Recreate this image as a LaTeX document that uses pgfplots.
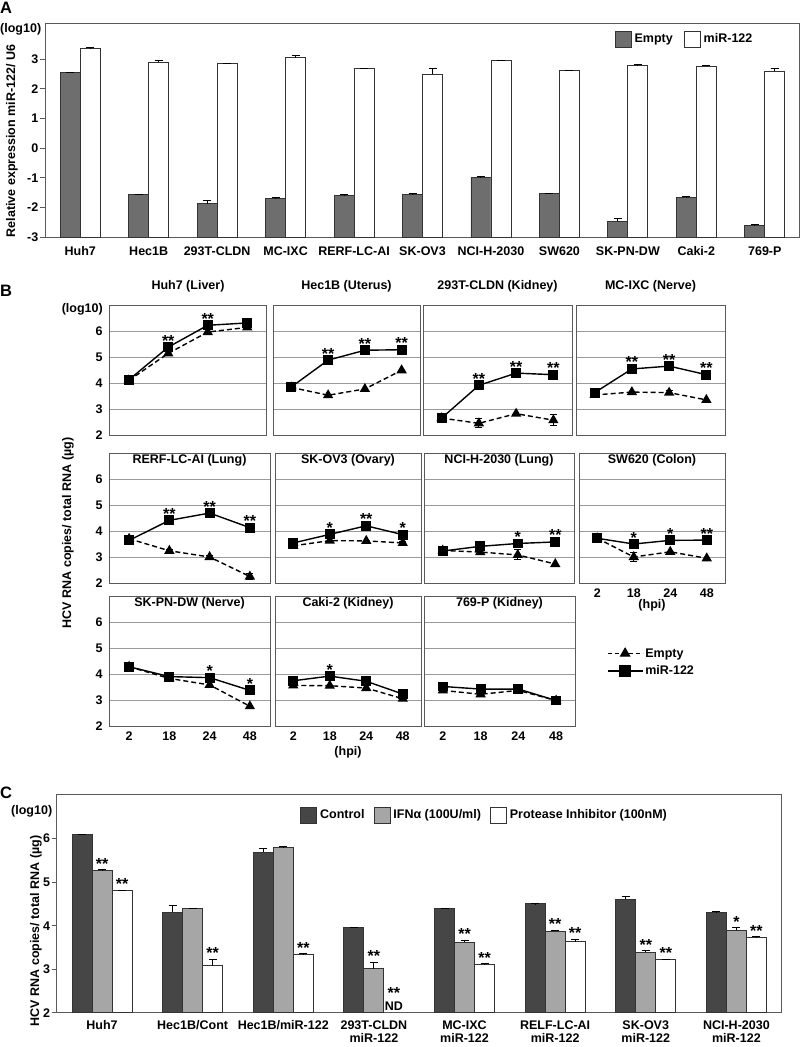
\documentclass[border=0pt]{standalone}
\usepackage{fontspec}
\setmainfont{Liberation Sans}
\usepackage{pgfplots}
\usepackage{pgfplotstable}
\pgfplotsset{compat=1.18}
\newcommand{\myf}{\fontsize{12.5}{13.5}\selectfont\bfseries}
\newcommand{\myfc}{\fontsize{12.5}{12.8}\selectfont\bfseries}
\newcommand{\mystar}{\fontsize{16}{16}\selectfont\bfseries}
\newcommand{\mybig}{\fontsize{16.5}{17}\selectfont\bfseries}
\definecolor{cempty}{HTML}{6E6E6E}
\definecolor{cctrl}{HTML}{464646}
\definecolor{cifn}{HTML}{A6A6A6}
\definecolor{cedge}{HTML}{333333}
\definecolor{cgrid}{HTML}{9A9A9A}
\definecolor{cframe}{HTML}{5A5A5A}

\pgfplotstableread{
i e ee m me
0 2.54 0.02 3.37 0.01
1 -1.57 0.02 2.90 0.06
2 -1.88 0.11 2.85 0.02
3 -1.69 0.01 3.05 0.06
4 -1.59 0.01 2.67 0.02
5 -1.55 0.01 2.49 0.18
6 -0.98 0.01 2.95 0.01
7 -1.54 0.01 2.61 0.02
8 -2.47 0.08 2.80 0.02
9 -1.66 0.02 2.76 0.03
10 -2.60 0.02 2.60 0.07
}\dataA

\pgfplotstableread{
x y err
0 6.09 0.01
1 4.31 0.15
2 5.69 0.08
3 3.95 0.02
4 4.39 0.01
5 4.50 0.01
6 4.61 0.06
7 4.31 0.01
}\Cctrl
\pgfplotstableread{
x y err sig
0 5.27 0.02 **
1 4.39 0.01 {}
2 5.80 0.01 {}
3 3.01 0.15 **
4 3.62 0.05 **
5 3.87 0.03 **
6 3.39 0.03 **
7 3.89 0.06 *
}\Cifn
\pgfplotstableread{
x y err sig
0 4.80 0.02 **
1 3.08 0.15 **
2 3.35 0.01 **
4 3.10 0.02 **
5 3.63 0.06 **
6 3.22 0.01 **
7 3.73 0.02 **
}\Cpi

\pgfplotsset{
  /pgf/number format/assume math mode=true,
  barleg/.style={legend image code/.code={\draw[##1] (0pt,-8pt) rectangle (16pt,8pt);}},
  Bleg/.style={legend image code/.code={\draw[mark repeat=2,mark phase=2,##1] plot coordinates {(0pt,0pt) (17.5pt,0pt) (35pt,0pt)};}},
  abar/.style={ybar, bar width=20pt, bar shift=0pt, draw=cedge, line width=0.9pt,
    error bars/y dir=plus, error bars/y explicit,
    error bars/error bar style={black, line width=1pt},
    error bars/error mark options={rotate=90, black, line width=1pt, mark size=4pt}},
  Bax/.style={scale only axis, anchor=north west, height=130pt,
    xmin=-0.5, xmax=3.5, ymin=2, ymax=7,
    xtick={0,1,2,3}, xticklabels={}, ytick={2,3,4,5,6}, yticklabels={},
    ymajorgrids, grid style={cgrid, line width=0.9pt},
    axis line style={cframe, line width=1pt},
    major tick length=0pt, tick style={draw=none}, clip=false,
    tick label style={font=\myf}, title style={font=\myf},
    xticklabel style={yshift=-2pt}},
  Btop/.style={title style={at={(0.5,1)}, anchor=center, yshift=13pt}},
  Bin/.style={title style={at={(0.5,1)}, anchor=center, yshift=-13pt}},
  Bleft/.style={yticklabels={2,3,4,5,6}, yticklabel style={xshift=-3pt}},
  Bbottom/.style={xticklabels={2,18,24,48}},
  empt/.style={black, line width=1.4pt, dash pattern=on 5pt off 3pt, mark=triangle*, mark size=4.6pt, mark options={solid},
    error bars/y dir=both, error bars/y explicit,
    error bars/error bar style={solid, line width=1pt},
    error bars/error mark options={rotate=90, solid, black, line width=1pt, mark size=3.5pt}},
  mir/.style={black, line width=1.4pt, mark=square*, mark size=4.2pt, mark options={solid},
    nodes near coords, point meta=explicit symbolic,
    every node near coord/.append style={font=\mystar, anchor=base, yshift=1pt, inner sep=0pt}},
  cstars/.style={nodes near coords, point meta=explicit symbolic,
    visualization depends on={\thisrow{err} \as \eb},
    every node near coord/.append style={font=\mystar, anchor=base, inner sep=0pt, yshift={\eb*43.5+0.5}}},
}

\newcommand{\Bpanel}[6]{%
\begin{axis}[Bax, at={(#1pt,-#2pt)}, width=#3pt, #4]
\addplot[empt] coordinates {#5};
\addplot[mir] coordinates {#6};
\end{axis}}

\begin{document}
\begin{tikzpicture}
\useasboundingbox (0pt,0pt) rectangle (800pt,-1047pt);

% ---------------- Panel A ----------------
\node[font=\mybig, anchor=north west, inner sep=0pt] at (0pt,-2pt) {A};
\node[font=\myf, anchor=west, inner sep=0pt] at (0pt,-29pt) {(log10)};
\node[font=\myf, rotate=90] at (12pt,-141pt) {Relative expression miR-122/ U6};
\begin{axis}[
  at={(46pt,-23pt)}, anchor=north west, scale only axis, width=753pt, height=214pt,
  xmin=-0.5, xmax=10.5, ymin=0, ymax=7.22,
  xtick={0,...,10},
  xticklabels={Huh7,Hec1B,293T-CLDN,MC-IXC,RERF-LC-AI,SK-OV3,NCI-H-2030,SW620,SK-PN-DW,Caki-2,769-P},
  ytick={0,...,6}, yticklabels={-3,-2,-1,0,1,2,3},
  tick align=outside, major tick length=6pt, xtick style={draw=none},
  ytick style={cframe, line width=1pt}, ytick pos=left,
  axis line style={cframe, line width=1pt},
  tick label style={font=\myf}, yticklabel style={inner sep=1.5pt},
  legend columns=2,
  legend style={at={(0.755,0.925)}, anchor=west, draw=none, fill=none, font=\myf,
    inner sep=0pt, nodes={inner sep=3pt},
    /tikz/every even column/.append style={column sep=8pt}},
]
\addlegendimage{barleg, fill=cempty, draw=cedge, line width=0.9pt}
\addlegendentry{Empty}
\addlegendimage{barleg, fill=white, draw=cedge, line width=0.9pt}
\addlegendentry{miR-122}
\addplot[abar, fill=cempty, forget plot] table[x expr=\thisrow{i}-0.1461, y expr=\thisrow{e}+3, y error=ee]{\dataA};
\addplot[abar, fill=white, forget plot] table[x expr=\thisrow{i}+0.1461, y expr=\thisrow{m}+3, y error=me]{\dataA};
\end{axis}

% ---------------- Panel B ----------------
\node[font=\mybig, anchor=north west, inner sep=0pt] at (0pt,-285pt) {B};
\node[font=\myf, anchor=east, inner sep=0pt] at (103pt,-309pt) {(log10)};
\node[font=\myf, rotate=90] at (68pt,-533pt) {HCV RNA copies/ total RNA (µg)};

\Bpanel{109}{305}{158}{title={Huh7 (Liver)}, Btop, Bleft}
 {(0,4.10) (1,5.14) (2,5.96) (3,6.14)}
 {(0,4.12) [{}] (1,5.38) [**] (2,6.22) [**] (3,6.31) [{}]}
\Bpanel{273}{305}{147}{title={Hec1B (Uterus)}, Btop}
 {(0,3.83) (1,3.53) (2,3.77) (3,4.49)}
 {(0,3.85) [{}] (1,4.88) [**] (2,5.26) [**] (3,5.28) [**]}
\Bpanel{423}{305}{149}{title={293T-CLDN (Kidney)}, Btop}
 {(0,2.65) (1,2.45) +- (0,0.18) (2,2.82) (3,2.57) +- (0,0.2)}
 {(0,2.65) [{}] (1,3.91) [**] (2,4.38) [**] (3,4.32) [**]}
\Bpanel{576}{305}{149}{title={MC-IXC (Nerve)}, Btop}
 {(0,3.54) +- (0,0.08) (1,3.65) (2,3.63) +- (0,0.08) (3,3.35)}
 {(0,3.63) [{}] (1,4.54) [**] (2,4.65) [**] (3,4.32) [**]}

\Bpanel{109}{453}{161}{title={RERF-LC-AI (Lung)}, Bin, Bleft}
 {(0,3.70) (1,3.24) +- (0,0.05) (2,3.00) +- (0,0.07) (3,2.25) +- (0,0.1)}
 {(0,3.64) [{}] (1,4.41) [**] (2,4.69) [**] (3,4.13) [**]}
\Bpanel{275}{453}{146}{title={SK-OV3 (Ovary)}, Bin}
 {(0,3.43) (1,3.63) (2,3.62) (3,3.54) +- (0,0.05)}
 {(0,3.54) [{}] (1,3.87) [*] (2,4.20) [**] (3,3.86) [*]}
\Bpanel{424}{453}{150}{title={NCI-H-2030 (Lung)}, Bin}
 {(0,3.25) +- (0,0.17) (1,3.19) (2,3.08) +- (0,0.19) (3,2.73)}
 {(0,3.23) [{}] (1,3.41) [{}] (2,3.52) [*] (3,3.58) [**]}
\Bpanel{579}{453}{146}{title={SW620 (Colon)}, Bin, Bbottom, xlabel={(hpi)}, xlabel style={font=\myf, at={(0.5,0)}, anchor=center, yshift=-22pt}}
 {(0,3.72) (1,3.00) +- (0,0.17) (2,3.20) (3,2.95)}
 {(0,3.72) [{}] (1,3.50) [*] (2,3.64) [*] (3,3.65) [**]}

\Bpanel{109}{596}{161}{title={SK-PN-DW (Nerve)}, Bin, Bleft, Bbottom}
 {(0,4.28) (1,3.83) (2,3.58) (3,2.76)}
 {(0,4.28) [{}] (1,3.90) [{}] (2,3.86) [*] (3,3.37) [*]}
\Bpanel{275}{596}{146}{title={Caki-2 (Kidney)}, Bin, Bbottom, xlabel={(hpi)}, xlabel style={font=\myf, at={(0.5,0)}, anchor=center, yshift=-26pt}}
 {(0,3.56) (1,3.55) (2,3.46) (3,3.05)}
 {(0,3.74) [{}] (1,3.92) [*] (2,3.72) [{}] (3,3.23) [{}]}
\begin{axis}[Bax, at={(424pt,-596pt)}, width=151pt, title={769-P (Kidney)}, Bin, Bbottom,
  legend style={at={(1.21,0.49)}, anchor=west, draw=none, fill=none, font=\myf,
    inner sep=0pt, row sep=3pt, nodes={inner sep=2pt}},
  legend cell align=left]
\addlegendimage{black, line width=1.4pt, dash pattern=on 4pt off 3pt, mark=triangle*, mark size=5pt, mark options={solid}, Bleg}
\addlegendentry{Empty}
\addlegendimage{black, line width=1.4pt, mark=square*, mark size=5pt, Bleg}
\addlegendentry{miR-122}
\addplot[empt, forget plot] coordinates {(0,3.37) (1,3.22) (2,3.37) (3,2.98)};
\addplot[mir, forget plot] coordinates {(0,3.52) [{}] (1,3.42) [{}] (2,3.42) [{}] (3,2.98) [{}]};
\end{axis}

% ---------------- Panel C ----------------
\node[font=\mybig, anchor=north west, inner sep=0pt] at (0pt,-787pt) {C};
\node[font=\myf, anchor=west, inner sep=0pt] at (11pt,-811pt) {(log10)};
\node[font=\myf, rotate=90] at (36pt,-931pt) {HCV RNA copies/ total RNA (µg)};
\begin{axis}[
  at={(56.7pt,-794.3pt)}, anchor=north west, scale only axis, width=725pt, height=218.4pt,
  xmin=-0.5, xmax=7.5, ymin=2, ymax=7.02,
  xtick={0,...,7},
  xticklabels={Huh7,Hec1B/Cont,Hec1B/miR-122,{293T-CLDN\\miR-122},{MC-IXC\\miR-122},{RELF-LC-AI\\miR-122},{SK-OV3\\miR-122},{NCI-H-2030\\miR-122}},
  ytick={2,...,6},
  tick align=outside, major tick length=5pt, xtick style={draw=none},
  ytick style={cframe, line width=1pt}, ytick pos=left,
  axis line style={cframe, line width=1pt},
  tick label style={font=\myf}, yticklabel style={inner sep=1.5pt},
  xticklabel style={font=\myfc, align=center, yshift=-1pt, inner sep=2pt},
  legend columns=3,
  legend style={at={(0.3356,0.905)}, anchor=west, draw=none, fill=none, font=\myf,
    inner sep=0pt, nodes={inner sep=3pt},
    /tikz/every even column/.append style={column sep=6pt}},
]
\addlegendimage{barleg, fill=cctrl, draw=cedge, line width=0.9pt}
\addlegendentry{Control}
\addlegendimage{barleg, fill=cifn, draw=cedge, line width=0.9pt}
\addlegendentry{IFNα (100U/ml)}
\addlegendimage{barleg, fill=white, draw=cedge, line width=0.9pt}
\addlegendentry{Protease Inhibitor (100nM)}
\addplot[abar, fill=cctrl, forget plot] table[x expr=\thisrow{x}-0.2208, y=y, y error=err]{\Cctrl};
\addplot[abar, fill=cifn, forget plot, cstars] table[x=x, y=y, y error=err, meta=sig]{\Cifn};
\addplot[abar, fill=white, forget plot, cstars] table[x expr=\thisrow{x}+0.2208, y=y, y error=err, meta=sig]{\Cpi};
\node[font=\myf, anchor=south, inner sep=0pt, yshift=2pt] (nd) at (axis cs:3.2208,2) {ND};
\node[font=\mystar, anchor=base, inner sep=0pt] at ([yshift=3.5pt]nd.north) {**};
\end{axis}
\end{tikzpicture}
\end{document}
